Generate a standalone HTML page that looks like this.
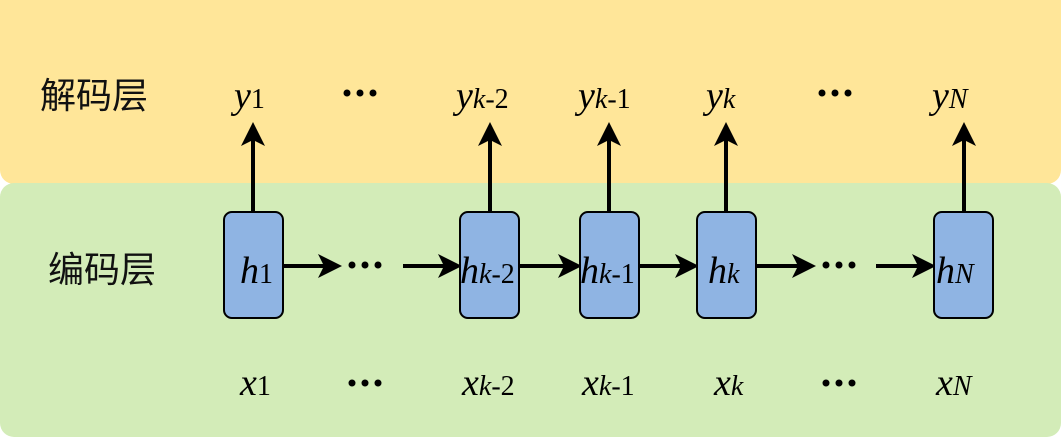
<!DOCTYPE html>
<html><head><meta charset="utf-8"><style>body{margin:0;background:#fff}svg{display:block}</style></head>
<body>
<svg width="1063" height="446" xmlns="http://www.w3.org/2000/svg" font-family="Liberation Serif, serif">
<defs><marker id="a" markerWidth="6" markerHeight="6" refX="5" refY="3" orient="auto" markerUnits="strokeWidth"><path d="M0,0 L6,3 L0,6 L1.5,3 z" fill="#000"/></marker></defs>
<rect x="0" y="-20" width="1061" height="204" rx="14" fill="#FFE699"/>
<rect x="0" y="183" width="1061" height="254" rx="14" fill="#D3ECB8"/>
<g font-family="Liberation Sans, Noto Sans CJK SC, sans-serif" font-size="36" fill="#111">
<text x="40" y="108">解码层</text>
<text x="48" y="282">编码层</text>
</g>
<g stroke="#000" stroke-width="4" fill="none" marker-end="url(#a)">
<line x1="253" y1="212" x2="253" y2="126"/>
<line x1="490" y1="212" x2="490" y2="126"/>
<line x1="609" y1="216" x2="609" y2="126"/>
<line x1="726" y1="212" x2="726" y2="126"/>
<line x1="964" y1="212" x2="964" y2="126"/>
<line x1="283" y1="266" x2="338" y2="266"/>
<line x1="403" y1="266" x2="458" y2="266"/>
<line x1="519" y1="266" x2="578" y2="266"/>
<line x1="639" y1="266" x2="695" y2="266"/>
<line x1="756" y1="266" x2="812" y2="266"/>
<line x1="876" y1="266" x2="932" y2="266"/>
</g>
<g fill="#8FB4E3" stroke="#000" stroke-width="2">
<rect x="224" y="212" width="59" height="106" rx="8"/>
<rect x="460" y="212" width="59" height="106" rx="8"/>
<rect x="580" y="212" width="59" height="106" rx="8"/>
<rect x="697" y="212" width="59" height="106" rx="8"/>
<rect x="934" y="212" width="59" height="106" rx="8"/>
</g>
<g font-size="38" fill="#000">
<text x="234" y="108"><tspan font-style="italic">y</tspan><tspan font-size="28">1</tspan></text>
<text x="456" y="108"><tspan font-style="italic">y</tspan><tspan font-size="28"><tspan font-style="italic">k</tspan>-2</tspan></text>
<text x="578" y="108"><tspan font-style="italic">y</tspan><tspan font-size="28"><tspan font-style="italic">k</tspan>-1</tspan></text>
<text x="706" y="108"><tspan font-style="italic">y</tspan><tspan font-size="28" font-style="italic">k</tspan></text>
<text x="932" y="108"><tspan font-style="italic">y</tspan><tspan font-size="28" font-style="italic">N</tspan></text>
<text x="240" y="283"><tspan font-style="italic">h</tspan><tspan font-size="28">1</tspan></text>
<text x="460" y="283"><tspan font-style="italic">h</tspan><tspan font-size="28"><tspan font-style="italic">k</tspan>-2</tspan></text>
<text x="580" y="283"><tspan font-style="italic">h</tspan><tspan font-size="28"><tspan font-style="italic">k</tspan>-1</tspan></text>
<text x="708" y="283"><tspan font-style="italic">h</tspan><tspan font-size="28" font-style="italic">k</tspan></text>
<text x="936" y="283"><tspan font-style="italic">h</tspan><tspan font-size="28" font-style="italic">N</tspan></text>
<text x="240" y="395"><tspan font-style="italic">x</tspan><tspan font-size="28">1</tspan></text>
<text x="462" y="395"><tspan font-style="italic">x</tspan><tspan font-size="28"><tspan font-style="italic">k</tspan>-2</tspan></text>
<text x="582" y="395"><tspan font-style="italic">x</tspan><tspan font-size="28"><tspan font-style="italic">k</tspan>-1</tspan></text>
<text x="714" y="395"><tspan font-style="italic">x</tspan><tspan font-size="28" font-style="italic">k</tspan></text>
<text x="936" y="395"><tspan font-style="italic">x</tspan><tspan font-size="28" font-style="italic">N</tspan></text>
</g>
<g fill="#000">
<circle cx="347" cy="93" r="3.5"/><circle cx="360" cy="93" r="3.5"/><circle cx="373" cy="93" r="3.5"/>
<circle cx="822" cy="93" r="3.5"/><circle cx="835" cy="93" r="3.5"/><circle cx="848" cy="93" r="3.5"/>
<circle cx="352" cy="265" r="3.5"/><circle cx="365" cy="265" r="3.5"/><circle cx="378" cy="265" r="3.5"/>
<circle cx="826" cy="265" r="3.5"/><circle cx="839" cy="265" r="3.5"/><circle cx="852" cy="265" r="3.5"/>
<circle cx="352" cy="383" r="3.5"/><circle cx="365" cy="383" r="3.5"/><circle cx="378" cy="383" r="3.5"/>
<circle cx="826" cy="383" r="3.5"/><circle cx="839" cy="383" r="3.5"/><circle cx="852" cy="383" r="3.5"/>
</g>
</svg>
</body></html>
